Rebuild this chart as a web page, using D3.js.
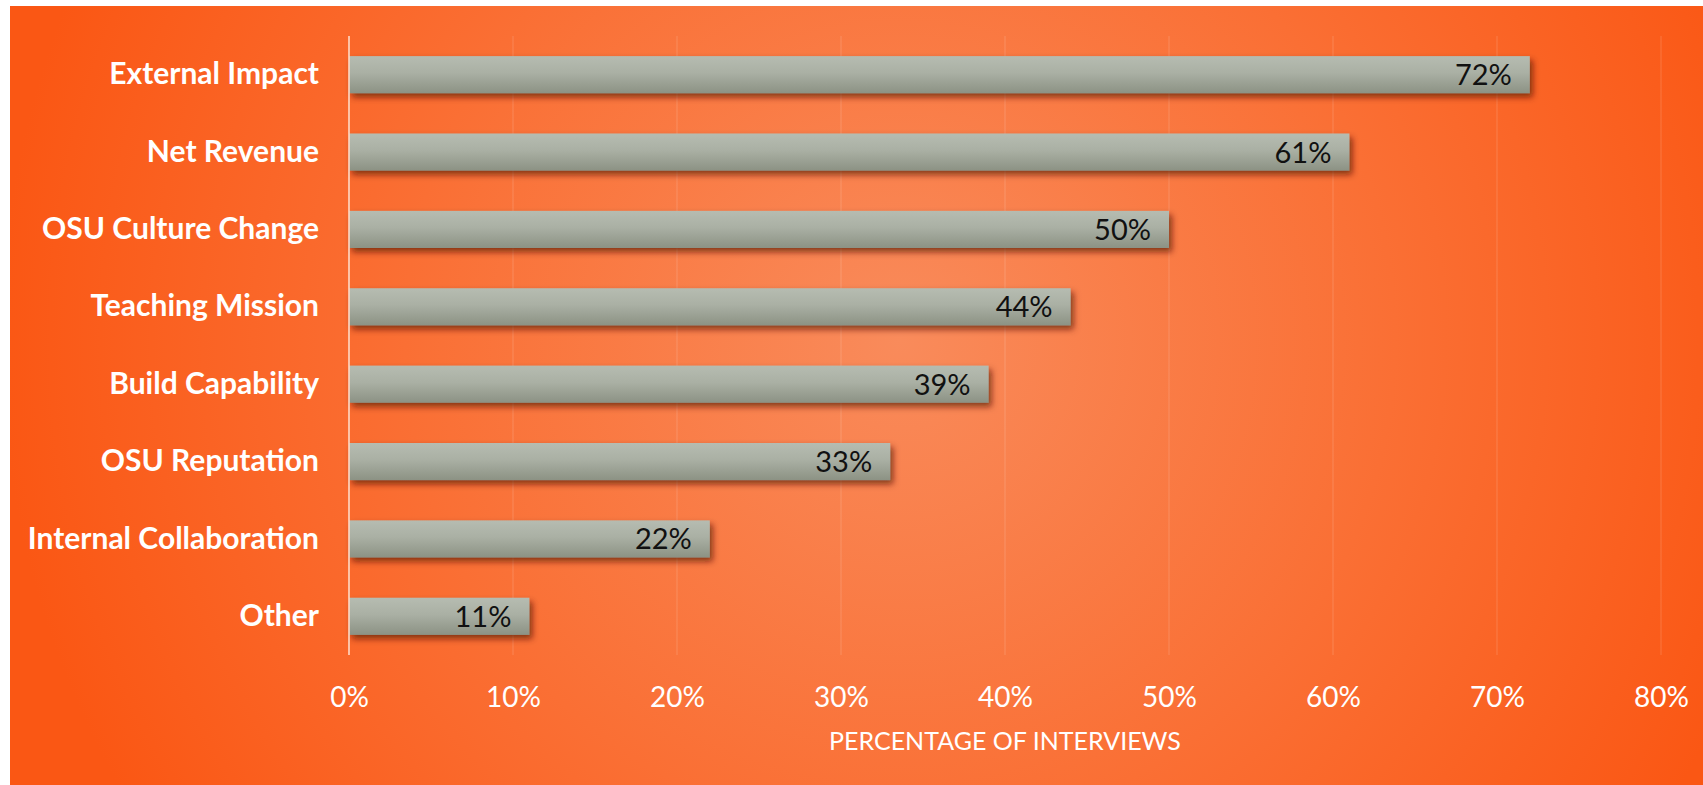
<!DOCTYPE html>
<html>
<head>
  <script src="https://cdn.jsdelivr.net/npm/d3@7"></script>
  <style>body { margin: 0; background: #fff; }</style>
</head>
<body>
  <div id="chart"></div>

  <script>
    // data
    const categories = ['External Impact', 'Net Revenue', 'OSU Culture Change', 'Teaching Mission',
      'Build Capability', 'OSU Reputation', 'Internal Collaboration', 'Other'];
    const values = [72, 61, 50, 44, 39, 33, 22, 11];
    const tickValues = [0, 10, 20, 30, 40, 50, 60, 70, 80];
    const axisTitle = 'PERCENTAGE OF INTERVIEWS';

    const width = 1703, height = 785;
    const plotLeft = 349, plotRight = 1661, plotTop = 36, plotBottom = 655;

    const svg = d3.select('#chart').append('svg')
      .attr('width', width)
      .attr('height', height);

    const defs = svg.append('defs');
    const bg = defs.append('radialGradient')
      .attr('id', 'bg')
      .attr('gradientUnits', 'userSpaceOnUse')
      .attr('cx', 900).attr('cy', 340).attr('r', 900);
    bg.append('stop').attr('offset', '0%').attr('stop-color', '#f98b5b');
    bg.append('stop').attr('offset', '55%').attr('stop-color', '#fa6f34');
    bg.append('stop').attr('offset', '100%').attr('stop-color', '#fa5714');

    const barGrad = defs.append('linearGradient')
      .attr('id', 'bar').attr('x1', 0).attr('y1', 0).attr('x2', 0).attr('y2', 1);
    barGrad.append('stop').attr('offset', '0%').attr('stop-color', '#b6bcb1');
    barGrad.append('stop').attr('offset', '45%').attr('stop-color', '#aab0a4');
    barGrad.append('stop').attr('offset', '100%').attr('stop-color', '#8c9284');

    const shadow = defs.append('filter').attr('id', 'shadow')
      .attr('x', '-5%').attr('y', '-30%').attr('width', '115%').attr('height', '180%');
    shadow.append('feDropShadow')
      .attr('dx', 3).attr('dy', 4).attr('stdDeviation', 3)
      .attr('flood-color', '#4a1800').attr('flood-opacity', 0.65);

    svg.append('rect')
      .attr('x', 10).attr('y', 6)
      .attr('width', width - 10).attr('height', height - 6)
      .attr('fill', 'url(#bg)');

    const x = d3.scaleLinear().domain([0, 80]).range([plotLeft, plotRight]);
    const y = d3.scaleBand().domain(categories).range([plotTop, plotBottom])
      .paddingInner(0.52).paddingOuter(0.26);

    // gridlines
    svg.append('g')
      .selectAll('line')
      .data(tickValues.slice(1))
      .join('line')
      .attr('x1', d => x(d)).attr('x2', d => x(d))
      .attr('y1', plotTop).attr('y2', plotBottom)
      .attr('stroke', '#ffffff').attr('stroke-opacity', 0.11).attr('stroke-width', 1.5);

    // bars
    svg.append('g')
      .selectAll('rect')
      .data(values)
      .join('rect')
      .attr('x', x(0))
      .attr('y', (d, i) => y(categories[i]))
      .attr('width', d => x(d) - x(0))
      .attr('height', y.bandwidth())
      .attr('fill', 'url(#bar)')
      .attr('filter', 'url(#shadow)');

    // value labels
    svg.append('g')
      .selectAll('text')
      .data(values)
      .join('text')
      .attr('x', d => x(d) - 18)
      .attr('y', (d, i) => y(categories[i]) + y.bandwidth() / 2)
      .attr('dy', '0.36em')
      .attr('text-anchor', 'end')
      .attr('font-family', 'Lato, sans-serif')
      .attr('font-size', 29)
      .attr('fill', '#111')
      .text(d => d + '%');

    // zero axis line
    svg.append('line')
      .attr('x1', x(0)).attr('x2', x(0))
      .attr('y1', plotTop).attr('y2', plotBottom)
      .attr('stroke', '#ffd9c6').attr('stroke-opacity', 0.8).attr('stroke-width', 2);

    // category labels
    const yAxis = svg.append('g')
      .attr('transform', `translate(${plotLeft - 30},0)`)
      .call(d3.axisLeft(y).tickSize(0).tickPadding(0));
    yAxis.select('.domain').remove();
    yAxis.selectAll('text')
      .attr('font-family', 'Lato, sans-serif')
      .attr('font-weight', 'bold')
      .attr('font-size', 30)
      .attr('fill', '#fff');

    // x tick labels
    const xAxis = svg.append('g')
      .attr('transform', `translate(0,${plotBottom})`)
      .call(d3.axisBottom(x).tickValues(tickValues).tickSize(0).tickPadding(32)
        .tickFormat(d => d + '%'));
    xAxis.select('.domain').remove();
    xAxis.selectAll('text')
      .attr('font-family', 'Lato, sans-serif')
      .attr('font-size', 28)
      .attr('fill', '#fff');

    svg.append('text')
      .attr('x', (plotLeft + plotRight) / 2)
      .attr('y', 741)
      .attr('dy', '0.35em')
      .attr('text-anchor', 'middle')
      .attr('font-family', 'Lato, sans-serif')
      .attr('font-size', 25)
      .attr('fill', '#fff')
      .text(axisTitle);
  </script>
</body>
</html>
